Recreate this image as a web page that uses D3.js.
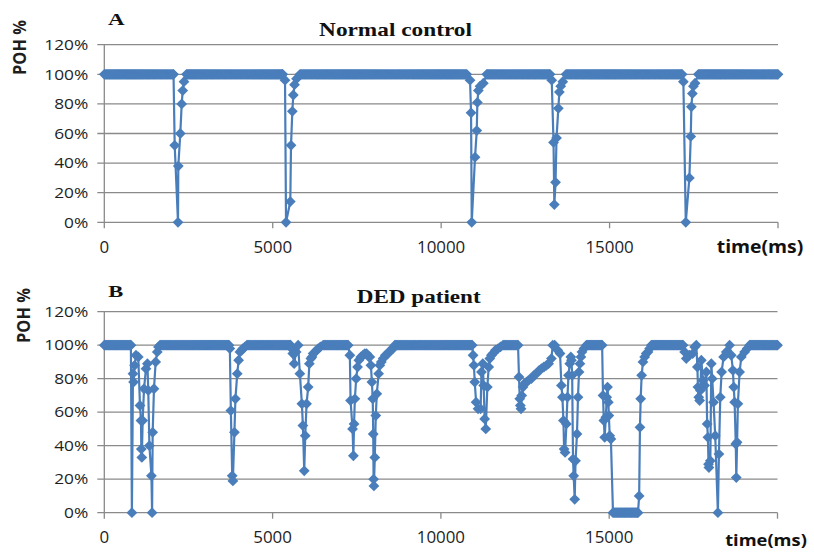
<!DOCTYPE html>
<html><head><meta charset="utf-8">
<script src="https://cdn.jsdelivr.net/npm/d3@7"></script>
<style>body{margin:0;background:#fff} svg{display:block}</style>
</head><body>
<svg id="c" width="814" height="552"></svg>
<script>
// ---------- data ----------
const sampleMs = 30;                     // recording interval used for steady stretches
const yTicks = [0, 20, 40, 60, 80, 100, 120];
const xTicks = [0, 5000, 10000, 15000, 20000];
const xTickLabels = ["0", "5000", "10000", "15000", ""];   // last tick carries the axis title instead

// Panel A – Normal control: steady runs [start, end, POH%] and the blink dips [t, POH%]
const normalHolds = [[0,2055,100],[2440,5291,100],[5810,10760,100],[11354,13232,100],[13709,17153,100],[17636,20000,100]];
const normalDips = [
  [2090,52],[2188,0],[2197,38],[2256,60],[2298,80],[2328,89],[2366,95],
  [5365,96],[5395,0],[5522,14],[5543,52],[5582,75],[5611,86],[5647,93],[5707,97],
  [10858,96],[10888,74],[10908,0],[11006,44],[11057,62],[11075,81],[11104,89],[11155,92],[11253,94],
  [13283,96],[13336,54],[13360,12],[13396,27],[13425,57],[13479,77],[13509,88],[13550,92],[13610,95],
  [17191,95],[17262,0],[17369,30],[17410,58],[17428,78],[17458,87],[17488,92],[17538,94]
];

// Panel B – DED patient
const dedHolds = [[0,790,100],[1654,3700,100],[4237,5530,100],[6502,7245,100],[8631,10930,100],[11846,12292,100],[14323,14790,100],[15113,15855,0],[16253,17191,100],[19171,20000,100]];
const dedDips = [
  [820,0],[852,83],[870,78],[900,88],[941,94],[1009,93],[1060,64],[1090,55],[1100,38],[1115,33],[1140,55],[1180,74],[1238,86],[1280,89],[1306,73],[1340,40],[1400,22],[1420,0],[1437,48],[1476,74],[1526,90],[1574,96],[1610,99],
  [3730,98],[3760,61],[3800,22],[3820,19],[3866,48],[3895,68],[3950,83],[3990,91],[4029,96],[4080,97],[4118,98],[4180,99],
  [5564,98],[5600,95],[5640,89],[5700,96],[5760,100],[5810,83],[5870,65],[5900,52],[5940,25],[5970,46],[6009,65],[6057,75],[6092,89],[6137,92],[6170,93],[6205,95],[6260,96],[6310,97],[6354,98],[6420,99],
  [7295,94],[7316,67],[7375,50],[7400,34],[7420,53],[7444,68],[7483,80],[7524,87],[7562,91],[7622,93],[7690,94],[7740,95],[7791,95],[7859,93],
  [7889,93],[7920,88],[7950,78],[7975,68],[7990,47],[8000,20],[8010,16],[8036,33],[8066,58],[8096,71],[8150,83],[8185,88],[8230,90],[8284,92],[8350,94],[8432,95],[8500,97],[8581,98],
  [10956,94],[10980,88],[11006,78],[11045,66],[11104,62],[11180,62],[11205,84],[11244,89],[11270,76],[11300,56],[11333,50],[11380,75],[11420,87],[11452,92],[11500,94],[11549,95],[11620,97],[11698,98],[11770,99],
  [12320,81],[12342,68],[12360,64],[12380,62],[12401,70],[12440,75],[12480,77],[12541,78],[12600,79],[12689,80],[12760,82],[12838,83],[12920,85],[12986,86],[13060,87],[13135,88],[13200,89],[13283,92],[13322,100],[13381,100],
  [13470,97],[13540,95],[13580,76],[13610,69],[13640,55],[13660,38],[13690,36],[13729,53],[13760,69],[13790,82],[13827,89],[13860,93],[13878,91],[13900,82],[13925,32],[13945,22],[13975,8],[14000,31],[14043,47],[14073,69],[14103,84],[14130,89],[14160,93],[14190,96],[14250,98],
  [14816,70],[14840,55],[14866,45],[14900,57],[14926,69],[14950,75],[14975,66],[14990,58],[15015,46],[15050,44],[15890,10],[15914,51],[15935,68],[15964,82],[16003,90],[16054,93],[16100,95],[16152,96],[16200,98],
  [17240,96],[17290,92],[17380,94],[17480,95],[17540,99],[17588,100],[17620,87],[17636,75],[17660,69],[17687,67],[17710,73],[17737,91],[17784,79],[17835,76],[17886,84],[17910,53],[17933,45],[17950,29],[17963,27],[18005,31],[18034,89],[18060,80],[18100,66],[18150,46],[18229,0],[18260,35],[18300,69],[18340,84],[18399,93],[18479,96],[18577,100],[18627,94],[18675,85],[18700,75],[18726,66],[18760,41],[18776,21],[18800,42],[18823,65],[18874,84],[18925,93],[19023,96],[19100,98]
];

// ---------- helpers ----------
function buildSeries(holds, dips) {
  const pts = [];
  holds.forEach(([t0, t1, v]) => {
    for (let t = t0; t < t1; t += sampleMs) pts.push([t, v]);
    pts.push([t1, v]);
  });
  dips.forEach(d => pts.push(d));
  return pts.sort((a, b) => a[0] - b[0]);
}

const svg = d3.select("#c");
const BLUE = "#4a7ebb", GRID = "#8a8a8a", TXT = "#1e1e1e";
const SANS = "'Open Sans', 'Liberation Sans', sans-serif";
const SERIF = "'Liberation Serif', 'Times New Roman', serif";

function fitText(g, str, x, y, o) {
  const t = g.append("text")
    .attr("font-family", o.family).attr("font-size", o.size)
    .attr("font-weight", o.weight || "normal").attr("fill", o.fill || TXT)
    .attr("text-anchor", o.anchor || "start").text(str);
  if (o.dy) t.attr("dy", o.dy);
  const sx = o.sx || 1, sy = o.sy || 1;
  t.attr("transform", `translate(${x},${y})` + (o.rot ? ` rotate(${o.rot})` : "") + ` scale(${sx},${sy})`);
  return t;
}
function widthOf(str, size, family, weight) {
  const t = svg.append("text").attr("font-family", family).attr("font-size", size)
    .attr("font-weight", weight || "normal").text(str);
  const w = t.node().getComputedTextLength(); t.remove(); return w;
}

const ySx = 44 / widthOf("100%", 14.5, SANS);
const xSx = 48.3 / widthOf("10000", 16, SANS);

function panel(cfg) {
  const g = svg.append("g");
  const x = d3.scaleLinear().domain([0, 20000]).range([cfg.left, cfg.right]);
  const y = d3.scaleLinear().domain([0, 120]).range([cfg.bottom, cfg.top]);

  // gridlines + y ticks
  g.selectAll(".grid").data(yTicks).join("line")
    .attr("x1", cfg.left - 7).attr("x2", cfg.right)
    .attr("y1", d => y(d)).attr("y2", d => y(d))
    .attr("stroke", GRID).attr("stroke-width", 1.3);
  // y axis line
  g.append("line").attr("x1", cfg.left).attr("x2", cfg.left)
    .attr("y1", y(120)).attr("y2", y(0)).attr("stroke", GRID).attr("stroke-width", 1.3);
  // x ticks
  g.selectAll(".xt").data(xTicks).join("line")
    .attr("x1", d => x(d)).attr("x2", d => x(d))
    .attr("y1", y(0)).attr("y2", y(0) + 6).attr("stroke", GRID).attr("stroke-width", 1.3);

  // tick labels
  yTicks.forEach(v => fitText(g, v + "%", cfg.left - 16, y(v), {family: SANS, size: 14.5, anchor: "end", dy: "0.36em", sx: ySx}));
  xTicks.forEach((v, i) => { if (xTickLabels[i]) fitText(g, xTickLabels[i], x(v), cfg.xLabBase, {family: SANS, size: 16, anchor: "middle", sx: xSx}); });

  // series
  const data = buildSeries(cfg.holds, cfg.dips);
  g.append("path").datum(data)
    .attr("d", d3.line().x(d => x(d[0])).y(d => y(d[1])))
    .attr("fill", "none").attr("stroke", BLUE).attr("stroke-width", 2.2).attr("stroke-linejoin", "round");
  const r = 5.4;
  g.selectAll(".m").data(data).join("path")
    .attr("d", `M0,${-r}L${r},0L0,${r}L${-r},0Z`)
    .attr("transform", d => `translate(${x(d[0])},${y(d[1])})`)
    .attr("fill", BLUE);

  // texts
  const pohW = widthOf("POH %", 15, SANS, "bold");
  fitText(g, "POH %", cfg.pohX, cfg.pohY, {family: SANS, size: 15, weight: "bold", anchor: "middle", dy: "0.36em", rot: -90, sx: 55 / pohW, sy: 1.2});
  const lw = widthOf(cfg.letter, cfg.letterSize, SERIF, "bold");
  fitText(g, cfg.letter, cfg.letterX, cfg.letterBase, {family: SERIF, size: cfg.letterSize, weight: "bold", sx: cfg.letterW / lw, fill: "#111"});
  const tw = widthOf(cfg.title, 18, SERIF, "bold");
  fitText(g, cfg.title, cfg.titleX, cfg.titleBase, {family: SERIF, size: 18, weight: "bold", anchor: "middle", sx: cfg.titleW / tw, fill: "#111"});
  const aw = widthOf("time(ms)", cfg.timeSize, SANS, "bold");
  fitText(g, "time(ms)", cfg.timeX, cfg.timeBase, {family: SANS, size: cfg.timeSize, weight: "bold", anchor: "middle", sx: cfg.timeW / aw, fill: "#111"});
}

panel({left: 104.3, right: 778, top: 44.7, bottom: 222.3, xLabBase: 253.3,
  holds: normalHolds, dips: normalDips,
  pohX: 20, pohY: 47.5, letter: "A", letterSize: 17, letterX: 108, letterBase: 25, letterW: 16.6,
  title: "Normal control", titleX: 395.5, titleBase: 36, titleW: 153,
  timeX: 760, timeBase: 253, timeSize: 18, timeW: 86.6});

panel({left: 104.3, right: 777.5, top: 311.7, bottom: 512.7, xLabBase: 543.3,
  holds: dedHolds, dips: dedDips,
  pohX: 23.5, pohY: 315.5, letter: "B", letterSize: 17, letterX: 108.3, letterBase: 297.3, letterW: 15,
  title: "DED patient", titleX: 418.7, titleBase: 303.3, titleW: 124,
  timeX: 766, timeBase: 546, timeSize: 16.5, timeW: 81.7});
</script>
</body></html>
